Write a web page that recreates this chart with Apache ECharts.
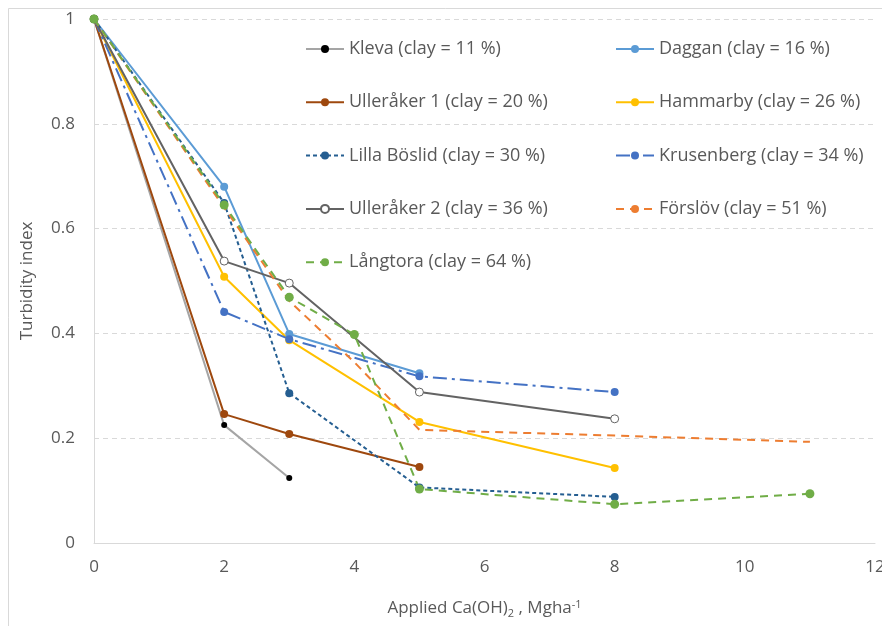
<!DOCTYPE html>
<html>
<head>
<meta charset="utf-8">
<script src="https://cdn.jsdelivr.net/npm/echarts@6/dist/echarts.min.js"></script>
<style>
  html, body { margin: 0; padding: 0; background: #fff; }
  #chart { width: 882px; height: 626px; }
</style>
</head>
<body>
<div id="chart"></div>
<script>
  // x = applied Ca(OH)2 (Mg/ha), y = turbidity index
  var kleva       = [[0, 1], [2, 0.225], [3, 0.124]];
  var daggan      = [[0, 1], [2, 0.680], [3, 0.399], [5, 0.324]];
  var ulleraker1  = [[0, 1], [2, 0.246], [3, 0.208], [5, 0.145]];
  var hammarby    = [[0, 1], [2, 0.508], [3, 0.387], [5, 0.231], [8, 0.143]];
  var lillaBoslid = [[0, 1], [2, 0.649], [3, 0.286], [5, 0.106], [8, 0.088]];
  var krusenberg  = [[0, 1], [2, 0.441], [3, 0.389], [5, 0.318], [8, 0.288]];
  var ulleraker2  = [[0, 1], [2, 0.538], [3, 0.496], [5, 0.288], [8, 0.237]];
  var forslov     = [[0, 1], [2, 0.640], [3, 0.462], [4, 0.345], [5, 0.216], [8, 0.205], [11, 0.193]];
  var langtora    = [[0, 1], [2, 0.645], [3, 0.469], [4, 0.398], [5, 0.103], [8, 0.074], [11, 0.094]];

  var names = ['Kleva (clay = 11 %)', 'Daggan (clay = 16 %)', 'Ulleråker 1 (clay = 20 %)',
               'Hammarby (clay = 26 %)', 'Lilla Böslid (clay = 30 %)', 'Krusenberg (clay = 34 %)',
               'Ulleråker 2 (clay = 36 %)', 'Förslöv (clay = 51 %)', 'Långtora (clay = 64 %)'];

  var font = '"Open Sans", sans-serif';
  var grey = '#595959';

  function line(name, data, color, opts) {
    opts = opts || {};
    return {
      name: name,
      type: 'line',
      data: data,
      symbol: opts.symbol || 'circle',
      symbolSize: opts.size || 8,
      showSymbol: opts.symbol !== 'none',
      lineStyle: { color: color, width: 2, type: opts.dash || 'solid' },
      itemStyle: {
        color: opts.fill || color,
        borderColor: opts.border || opts.fill || color,
        borderWidth: opts.bw || 0
      }
    };
  }

  var legendText = { color: grey, fontSize: 18, fontFamily: font };

  var option = {
    animation: false,
    backgroundColor: '#fff',
    textStyle: { fontFamily: font },
    // thin chart-area border like the spreadsheet export
    graphic: [{
      type: 'rect', left: 6, top: 6, silent: true,
      shape: { width: 900, height: 640 },
      style: { fill: 'none', stroke: '#D9D9D9', lineWidth: 1 }
    }],
    grid: { left: 94, right: 7, top: 19, bottom: 83, outerBoundsMode: 'none' },
    legend: [
      {
        data: [names[0], names[2], names[4], names[6], names[8]],
        orient: 'vertical', left: 300, top: 35,
        itemWidth: 38, itemHeight: 10, itemGap: 35.3,
        textStyle: legendText
      },
      {
        data: [names[1], names[3], names[5], names[7]],
        orient: 'vertical', left: 610, top: 35,
        itemWidth: 38, itemHeight: 10, itemGap: 35.3,
        textStyle: legendText
      }
    ],
    xAxis: {
      type: 'value', min: 0, max: 12, interval: 2,
      name: '{a|Applied Ca(OH)}{sub|2}{a| , Mgha}{sup|-1}',
      nameLocation: 'middle', nameGap: 55,
      nameTextStyle: {
        rich: {
          a: { fontSize: 17, color: grey, fontFamily: font },
          sub: { fontSize: 11, color: grey, fontFamily: font, padding: [10, 0, 0, 0] },
          sup: { fontSize: 11, color: grey, fontFamily: font, padding: [0, 0, 8, 0] }
        }
      },
      axisLine: { show: true, lineStyle: { color: '#D9D9D9', width: 1 } },
      axisTick: { show: false },
      splitLine: { show: false },
      axisLabel: { color: grey, fontSize: 17, margin: 16, fontFamily: font }
    },
    yAxis: {
      type: 'value', min: 0, max: 1, interval: 0.2,
      name: 'Turbidity index',
      nameLocation: 'middle', nameGap: 58,
      nameTextStyle: { color: grey, fontSize: 17, fontFamily: font },
      axisLine: { show: true, lineStyle: { color: '#D9D9D9', width: 1 } },
      axisTick: { show: false },
      splitLine: { show: true, lineStyle: { color: '#D9D9D9', type: [5, 4] } },
      axisLabel: { color: grey, fontSize: 17, margin: 19, fontFamily: font }
    },
    series: [
      line(names[0], kleva, '#A5A5A5', { fill: '#000', size: 6 }),
      line(names[1], daggan, '#5B9BD5'),
      line(names[2], ulleraker1, '#9E480E'),
      line(names[3], hammarby, '#FFC000'),
      line(names[4], lillaBoslid, '#255E91', { dash: [4, 3] }),
      line(names[5], krusenberg, '#4472C4', { dash: [14, 5, 3, 5] }),
      line(names[6], ulleraker2, '#636363', { fill: '#fff', border: '#636363', bw: 1, size: 8 }),
      line(names[7], forslov, '#ED7D31', { dash: [8, 6], symbol: 'none' }),
      line(names[8], langtora, '#70AD47', { dash: [8, 6], size: 9 })
    ]
  };

  var chart = echarts.init(document.getElementById('chart'));
  chart.setOption(option);
</script>
</body>
</html>
